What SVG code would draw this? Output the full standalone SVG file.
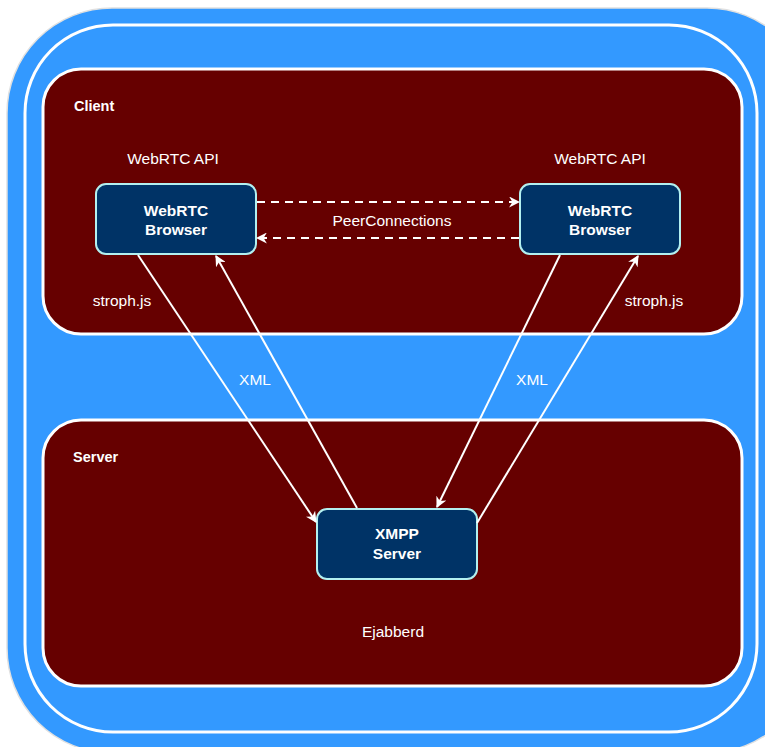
<svg xmlns="http://www.w3.org/2000/svg" width="765" height="747" viewBox="0 0 765 747">
<defs>
<style>
.region{fill:#660000;stroke:#ffffff;stroke-width:3}
.node{fill:#003366;stroke:#b3f0f0;stroke-width:2}
.nt{font-family:"Liberation Sans",Arial,sans-serif;font-size:15.5px;font-weight:bold;fill:#ffffff;text-anchor:middle}
.lbl{font-family:"Liberation Sans",Arial,sans-serif;font-size:15.5px;fill:#ffffff;text-anchor:middle}
.title{font-family:"Liberation Sans",Arial,sans-serif;font-size:14.5px;font-weight:bold;fill:#ffffff}
.edge{stroke:#ffffff;stroke-width:2;fill:none}
.dash{stroke-dasharray:8 6}
</style>
<marker id="arr" viewBox="0 0 10 10" refX="9" refY="5" markerWidth="11" markerHeight="11" markerUnits="userSpaceOnUse" orient="auto">
<path d="M0,0 L10,5 L0,10 L3,5 z" fill="#ffffff"/>
</marker>
</defs>
<g id="background">
<rect x="7" y="8" width="805" height="745" rx="105" fill="#3399ff" stroke="#e0e0e0" stroke-width="1.5"/>
<rect x="25" y="25" width="732" height="707" rx="88" fill="none" stroke="#ffffff" stroke-width="3"/>
</g>
<g id="client">
<rect class="region" x="43" y="69" width="699" height="265" rx="38"/>
<text class="title" x="74" y="111">Client</text>
</g>
<g id="server">
<rect class="region" x="43" y="420" width="699" height="266" rx="38"/>
<text class="title" x="73" y="462">Server</text>
<text class="lbl" x="393" y="637">Ejabberd</text>
</g>
<g id="browser-left">
<rect class="node" x="96" y="184" width="160" height="70" rx="10"/>
<text class="nt" x="176" y="216">WebRTC</text>
<text class="nt" x="176" y="235">Browser</text>
<text class="lbl" x="173" y="164">WebRTC API</text>
<text class="lbl" x="122" y="306">stroph.js</text>
</g>
<g id="browser-right">
<rect class="node" x="520" y="184" width="160" height="70" rx="10"/>
<text class="nt" x="600" y="216">WebRTC</text>
<text class="nt" x="600" y="235">Browser</text>
<text class="lbl" x="600" y="164">WebRTC API</text>
<text class="lbl" x="654" y="306">stroph.js</text>
</g>
<g id="xmpp">
<rect class="node" x="317" y="509" width="160" height="70" rx="10"/>
<text class="nt" x="397" y="539">XMPP</text>
<text class="nt" x="397" y="559">Server</text>
</g>
<g id="connectors">
<line class="edge dash" x1="257" y1="202" x2="519" y2="202" marker-end="url(#arr)"/>
<line class="edge dash" x1="519" y1="238" x2="257" y2="238" marker-end="url(#arr)"/>
<text class="lbl" x="392" y="226">PeerConnections</text>
<line class="edge" x1="138" y1="255" x2="316" y2="522" marker-end="url(#arr)"/>
<line class="edge" x1="357" y1="508" x2="216" y2="256" marker-end="url(#arr)"/>
<line class="edge" x1="560" y1="255" x2="437" y2="507" marker-end="url(#arr)"/>
<line class="edge" x1="477" y1="523" x2="638" y2="256" marker-end="url(#arr)"/>
<text class="lbl" x="255" y="385">XML</text>
<text class="lbl" x="532" y="385">XML</text>
</g>
</svg>
